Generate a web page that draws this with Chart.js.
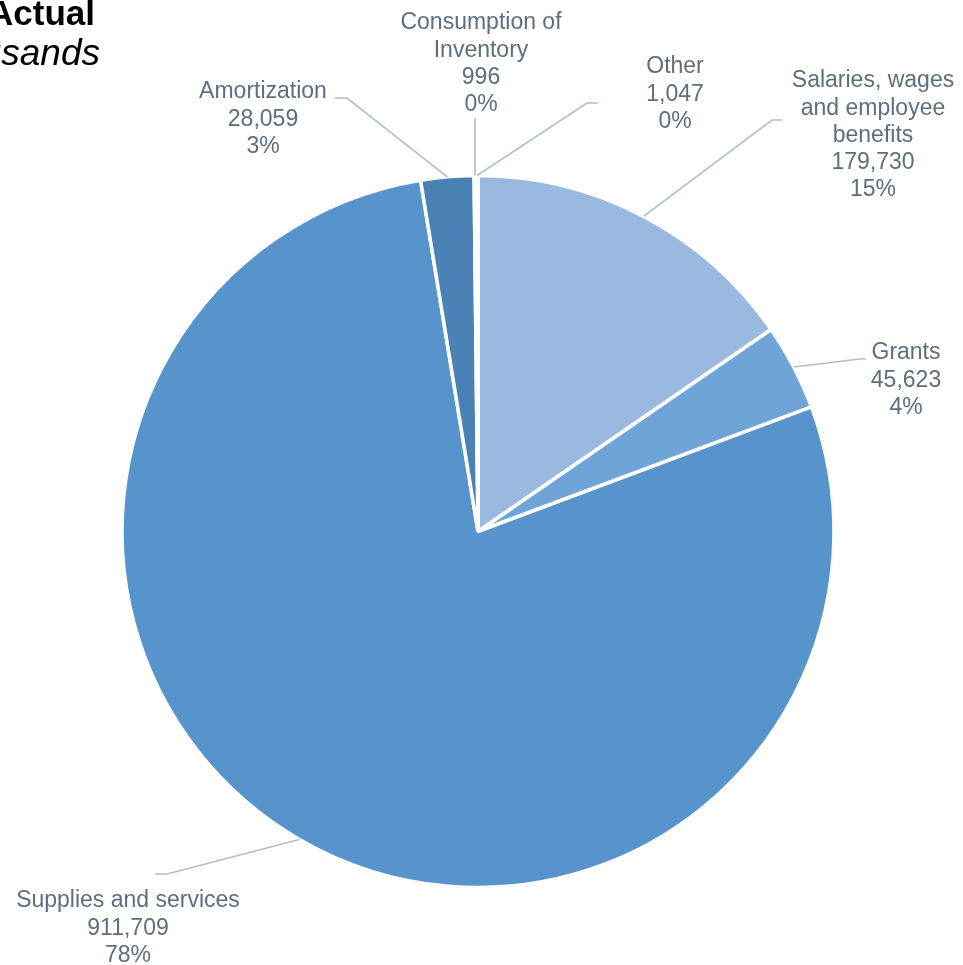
<!DOCTYPE html>
<html>
<head>
<meta charset="utf-8">
<script src="https://cdn.jsdelivr.net/npm/chart.js@4.4.1/dist/chart.umd.min.js"></script>
<style>
  html, body { margin: 0; padding: 0; background: #fff; overflow: hidden; }
  #wrap { position: relative; width: 963px; height: 965px; }
  .title { position: absolute; font-family: "Liberation Sans", Arial, sans-serif; color: #000; white-space: nowrap; font-size: 35px; line-height: 35px; }
  #t1 { top: -5px; right: calc(963px - 95px); font-weight: bold; }
  #t2 { top: 34px; right: calc(963px - 100px); font-style: italic; font-size: 37px; line-height: 37px; }
</style>
</head>
<body>
<div id="wrap">
  <canvas id="chart1" width="963" height="965"></canvas>
  <div class="title" id="t1">2023 Actual</div>
  <div class="title" id="t2">In thousands</div>
</div>
<script>
// Expenses by object - Actual
const categories1 = ['Salaries, wages and employee benefits', 'Grants', 'Supplies and services', 'Amortization', 'Consumption of Inventory', 'Other'];
const values1 = [179730, 45623, 911709, 28059, 996, 1047];
const percents1 = [15, 4, 78, 3, 0, 0];
const colors1 = ['#9ab9e0', '#6fa4d8', '#5794cb', '#4a82b5', '#3f6f9f', '#b4cdea'];

// label text lines and anchor (centre x, first line y, elbow x, elbow y) for each slice
const labelLines1 = [
    ['Salaries, wages', 'and employee', 'benefits'],
    ['Grants'],
    ['Supplies and services'],
    ['Amortization'],
    ['Consumption of', 'Inventory'],
    ['Other']
];
const labelPos1 = [
    {x: 873, y: 81, ex: 772, ey: 120, hx: 782},
    {x: 906, y: 353, ex: 860, ey: 359, hx: 866},
    {x: 128, y: 901, ex: 167, ey: 874, hx: 155},
    {x: 263, y: 92, ex: 347, ey: 98, hx: 335},
    {x: 481, y: 23, ex: 475, ey: 118, hx: 475},
    {x: 675, y: 67, ex: 587, ey: 103, hx: 598}
];

const leaderLabels = {
    id: 'leaderLabels',
    afterDatasetsDraw(chart) {
        const ctx = chart.ctx;
        const arcs = chart.getDatasetMeta(0).data;
        ctx.save();
        arcs.forEach((arc, i) => {
            const p = labelPos1[i];
            const mid = (arc.startAngle + arc.endAngle) / 2;
            const r = arc.outerRadius;
            let sx = arc.x + Math.cos(mid) * r;
            let sy = arc.y + Math.sin(mid) * r;
            ctx.strokeStyle = '#b3bdc7';
            ctx.lineWidth = 1.6;
            ctx.beginPath();
            ctx.moveTo(sx, sy);
            if (i === 4) {
                ctx.lineTo(sx, p.ey);
            } else {
                ctx.lineTo(p.ex, p.ey);
                ctx.lineTo(p.hx, p.ey);
            }
            ctx.stroke();

            const lines = labelLines1[i].concat([values1[i].toLocaleString('en-US'), percents1[i] + '%']);
            ctx.fillStyle = '#5d6e7e';
            ctx.font = '23px "Liberation Sans", Arial, sans-serif';
            ctx.textAlign = 'center';
            ctx.textBaseline = 'middle';
            lines.forEach((t, k) => ctx.fillText(t, p.x, p.y + k * 27.2));
        });
        ctx.restore();
    }
};

const ctx1 = document.getElementById('chart1').getContext('2d');
const chart1 = new Chart(ctx1, {
    type: 'pie',
    data: {
        labels: categories1,
        datasets: [{
            data: values1,
            backgroundColor: colors1,
            borderColor: '#ffffff',
            borderWidth: 3.5,
            radius: 356
        }]
    },
    options: {
        responsive: false,
        animation: false,
        layout: {
            padding: {left: 124, right: 131, top: 177, bottom: 79}
        },
        plugins: {
            legend: { display: false },
            tooltip: { enabled: false }
        }
    },
    plugins: [leaderLabels]
});
</script>
</body>
</html>
